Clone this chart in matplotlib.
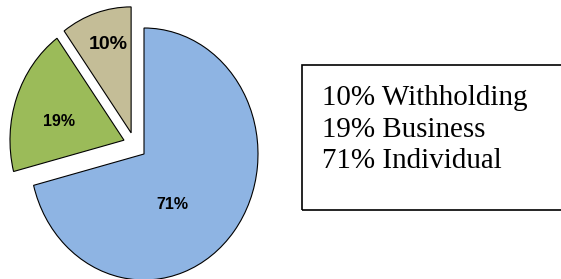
import numpy as np
import matplotlib.pyplot as plt
from matplotlib.patches import Rectangle

# slices, in drawing order (clockwise from 12 o'clock)
names = ["Individual", "Business", "Withholding"]
shares = [71, 19, 10]
colors = ["#8EB4E3", "#9BBB59", "#C4BD97"]

# legend lines as in the box
legend_lines = ["10% Withholding", "19% Business", "71% Individual"]

# how far each slice is pulled out (radius units) and in which direction
pull_r = [0.0, 0.207, 0.202]
pull_deg = [0, 148, 124]
# label spots and sizes
label_xy = [(0.246, -0.397), (-0.746, 0.254), (-0.316, 0.873)]
label_size = [11.5, 11.5, 14]

fig = plt.figure(figsize=(5.61, 2.79), dpi=100)
ax = fig.add_axes([0, 0, 1, 1])

wedges, _ = ax.pie(shares, colors=colors, startangle=90, counterclock=False,
                   wedgeprops=dict(edgecolor="black", linewidth=0.8))
for w, r, a in zip(wedges, pull_r, pull_deg):
    w.set_center((r * np.cos(np.radians(a)), r * np.sin(np.radians(a))))

for s, (x, y), fs in zip(shares, label_xy, label_size):
    ax.text(x, y, f"{s}%", ha="center", va="center", fontsize=fs,
            fontweight="bold", family="Liberation Sans")

# map the unit pie onto the picture (slightly taller than wide)
ax.set_aspect("auto")
ax.set_xlim(-144 / 114, (561 - 144) / 114)
ax.set_ylim((154 - 279) / 126, 154 / 126)
ax.axis("off")

fig.patches.append(Rectangle((302 / 561, (279 - 210) / 279), (570 - 302) / 561, 145 / 279,
                             transform=fig.transFigure, fill=False,
                             edgecolor="black", linewidth=1.2))
for i, line in enumerate(legend_lines):
    fig.text(322 / 561, (279 - 105 - 31.6 * i) / 279, line, fontsize=20.9,
             family="Liberation Serif", va="baseline", ha="left")

fig.savefig("out.png", dpi=100)
